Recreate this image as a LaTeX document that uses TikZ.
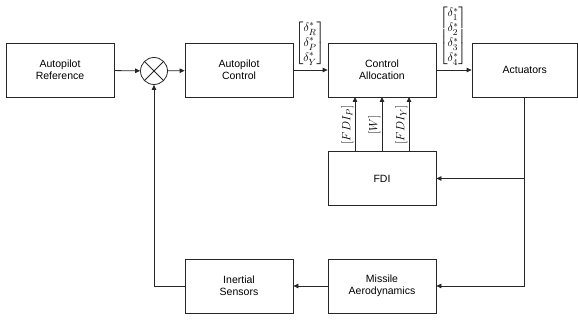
\documentclass[tikz,border=0pt]{standalone}
\usepackage{amsmath}
\usepackage{fontspec}
\setmainfont{Liberation Sans}
\usetikzlibrary{arrows.meta}
\begin{document}
\begin{tikzpicture}[x=1pt,y=-1pt,
  blk/.style={draw=black!85,line width=0.8pt,minimum width=108pt,minimum height=54pt,align=center,font=\fontsize{10.5}{12}\selectfont,inner sep=0pt},
  conn/.style={draw=black!85,line width=0.8pt,-{Triangle[length=5pt,width=4.5pt]}},
  ln/.style={draw=black!85,line width=0.8pt},
  mat/.style={anchor=south,inner sep=0pt,font=\fontsize{12.5}{15}\selectfont},
  rlab/.style={rotate=90,anchor=south,inner sep=1.5pt,font=\fontsize{12.5}{15}\selectfont}]
\useasboundingbox (0,0) rectangle (578,320);
\node[blk] (ref) at (60,70) {Autopilot\\Reference};
\node[draw=black!85,line width=0.8pt,circle,minimum size=27pt,inner sep=0pt] (sum) at (154,71) {};
\draw[ln] (sum.north west) -- (sum.south east) (sum.north east) -- (sum.south west);
\node[blk] (apc) at (239,70) {Autopilot\\Control};
\node[blk] (ca) at (382,70) {Control\\Allocation};
\node[blk,minimum width=105.5pt] (act) at (524.75,70) {Actuators};
\node[blk] (fdi) at (382,178.5) {FDI};
\node[blk] (ma) at (382,286) {Missile\\Aerodynamics};
\node[blk] (is) at (239,286) {Inertial\\Sensors};
\node[mat] (m1) at (310,66) {$\begin{bmatrix}\delta_R^*\\\delta_P^*\\\delta_Y^*\end{bmatrix}$};
\node[mat] (m2) at (453,66.5) {$\begin{bmatrix}\delta_1^*\\\delta_2^*\\\delta_3^*\\\delta_4^*\end{bmatrix}$};
\draw[conn] (ref) -- (sum);
\draw[conn] (sum) -- (apc);
\draw[conn] (apc) -- (ca);
\draw[conn] (ca) -- (act);
\coordinate (c1) at (act.south |- fdi.east);
\coordinate (c2) at (act.south |- ma.east);
\draw[ln] (act.south) -- (c2);
\draw[conn] (c1) -- (fdi.east);
\draw[conn] (c2) -- (ma.east);
\draw[conn] (ma) -- (is);
\coordinate (c3) at (sum.south |- is.west);
\draw[conn] (is.west) -- (c3) -- (sum.south);
\foreach \xx/\lab/\nm in {355/{$[FDI_P]$}/a,382/{$[W]$}/b,409/{$[FDI_Y]$}/c}{
  \coordinate (fb\nm) at (\xx,152);
  \coordinate (ct\nm) at (\xx,97);
  \draw[conn] (fb\nm) -- (ct\nm);
  \node[rlab] (l\nm) at (\xx,125) {\lab};
}
\end{tikzpicture}
\end{document}
